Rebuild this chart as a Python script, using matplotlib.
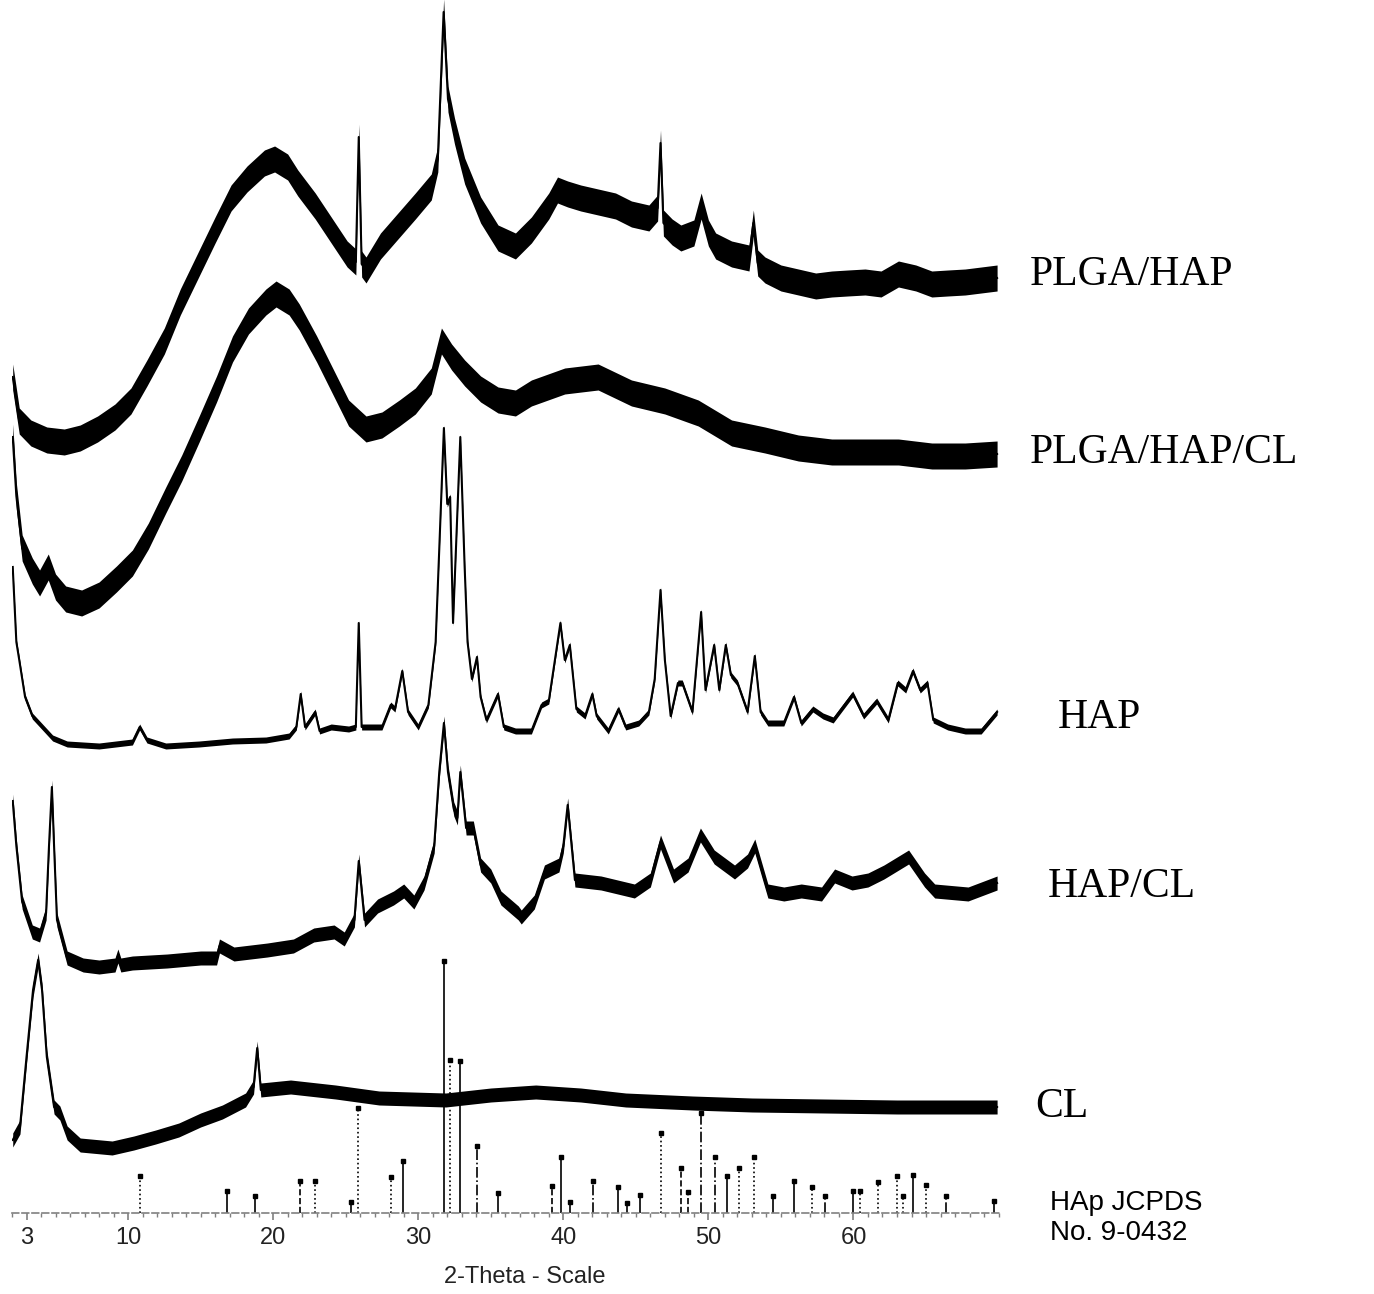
import numpy as np
import matplotlib
matplotlib.use("Agg")
import matplotlib.pyplot as plt
from matplotlib.ticker import MultipleLocator, FixedLocator

# stacked XRD scans (2-theta in degrees, height in px above the axis)
plga_hap_x = [2.05, 2.5, 3.3, 4.4, 5.6, 6.7, 7.9, 9.1, 10.2, 11.3, 12.5, 13.6, 14.8, 16.0, 17.1, 18.2,
              19.4, 20.1, 21.0, 21.7, 22.9, 24.0, 25.1, 25.7, 25.9, 26.1, 26.4, 27.4, 28.6, 29.8, 30.9,
              31.35, 31.75, 32.05, 32.5, 33.2, 34.3, 35.5, 36.7, 37.8, 39.0, 39.6, 40.3, 41.2, 42.4,
              43.6, 44.7, 45.9, 46.5, 46.7, 46.9, 47.5, 48.1, 49.0, 49.5, 50.0, 50.5, 51.6, 52.8, 53.1,
              53.4, 53.9, 55.0, 56.2, 57.4, 58.5, 59.6, 60.8, 61.9, 63.1, 64.3, 65.4, 66.5, 67.7, 68.8, 69.9]
plga_hap_y = [831, 787, 775, 768, 766, 770, 779, 791, 807, 835, 867, 906, 942, 978, 1010, 1029,
              1045, 1049, 1041, 1025, 1002, 978, 954, 946, 1071, 944, 938, 962, 982, 1002, 1021,
              1049, 1196, 1109, 1077, 1037, 998, 970, 962, 978, 1002, 1018, 1014, 1010, 1006,
              1002, 994, 990, 1000, 1065, 985, 976, 970, 975, 1002, 975, 962, 954, 950, 985,
              945, 938, 930, 926, 922, 924, 925, 926, 924, 934, 930, 924, 925, 926, 928, 930]

plga_hap_cl_x = [2.05, 2.3, 2.7, 3.4, 3.9, 4.5, 5.0, 5.7, 6.8, 8.0, 9.2, 10.3, 11.4, 12.6, 13.7, 14.9,
                 16.1, 17.2, 18.3, 19.5, 20.2, 21.1, 21.8, 23.0, 24.1, 25.2, 26.4, 27.5, 28.7, 29.8,
                 30.9, 31.6, 32.3, 33.2, 34.3, 35.5, 36.7, 37.8, 40.1, 42.4, 44.7, 47.0, 49.3, 51.6,
                 53.9, 56.2, 58.5, 60.8, 63.1, 65.4, 67.7, 69.9]
plga_hap_cl_y = [771, 712, 660, 637, 625, 641, 621, 609, 605, 613, 629, 645, 672, 708, 740, 779,
                 819, 859, 887, 906, 914, 906, 891, 859, 827, 795, 779, 783, 795, 807,
                 827, 867, 851, 835, 819, 808, 805, 815, 827, 831, 815, 807, 795, 775,
                 768, 760, 756, 756, 756, 752, 752, 754]

hap_x = [2.05, 2.3, 2.5, 2.9, 3.4, 4.1, 4.8, 5.8, 8.0, 10.3, 10.8, 11.3, 12.6, 14.9, 17.2, 19.5,
         21.1, 21.6, 21.9, 22.2, 22.9, 23.2, 24.0, 25.2, 25.7, 25.9, 26.1, 27.5, 28.1, 28.4, 28.9,
         29.3, 30.0, 30.7, 31.2, 31.45, 31.77, 32.0, 32.2, 32.4, 32.6, 32.9, 33.2, 33.4, 33.7,
         34.05, 34.3, 34.7, 35.5, 35.9, 36.7, 37.8, 38.5, 39.0, 39.8, 40.1, 40.45, 40.9, 41.5,
         42.0, 42.3, 43.1, 43.8, 44.3, 45.2, 45.9, 46.3, 46.7, 47.0, 47.4, 47.9, 48.2, 48.9,
         49.5, 49.8, 50.4, 50.75, 51.2, 51.55, 52.0, 52.7, 53.2, 53.6, 54.1, 55.2, 55.9, 56.4,
         57.2, 57.9, 58.6, 59.95, 60.7, 61.6, 62.4, 63.05, 63.6, 64.1, 64.6, 65.1, 65.5, 66.5,
         67.7, 68.8, 69.9]
hap_y = [641, 566, 548, 511, 492, 481, 470, 464, 462, 466, 481, 468, 462, 464, 467, 468,
         472, 481, 514, 481, 496, 477, 481, 479, 481, 585, 481, 481, 503, 499, 537,
         496, 481, 503, 566, 659, 780, 704, 711, 585, 659, 771, 641, 566, 529,
         551, 511, 488, 514, 481, 477, 477, 503, 507, 585, 548, 563, 499, 492,
         514, 492, 477, 499, 481, 485, 496, 529, 618, 548, 492, 525, 525, 496,
         596, 518, 563, 518, 563, 533, 525, 496, 552, 496, 485, 485, 511, 485,
         499, 492, 488, 514, 492, 507, 488, 525, 518, 537, 518, 525, 488, 481,
         477, 477, 496]

hap_cl_x = [2.05, 2.3, 2.7, 3.4, 3.9, 4.35, 4.55, 4.75, 4.9, 5.1, 5.8, 6.9, 8.0, 9.1, 9.3, 9.5,
            10.3, 12.7, 15.0, 16.1, 16.3, 17.3, 19.6, 21.4, 22.8, 24.2, 24.9, 25.6, 25.9, 26.3,
            27.2, 28.3, 29.0, 29.7, 30.4, 31.1, 31.45, 31.77, 32.05, 32.45, 32.7, 32.9, 33.3,
            33.8, 34.3, 35.0, 35.7, 36.9, 37.1, 38.0, 38.7, 39.7, 40.0, 40.3, 40.8, 42.6, 44.9,
            46.0, 46.7, 47.6, 48.6, 49.45, 50.4, 51.8, 52.7, 53.2, 54.1, 55.2, 56.4, 57.8, 58.7,
            59.9, 61.0, 62.1, 63.8, 64.9, 65.6, 67.9, 69.9]
hap_cl_y = [407, 362, 306, 276, 273, 295, 362, 421, 362, 288, 250, 243, 241, 243, 252, 243,
            245, 247, 250, 250, 262, 254, 258, 262, 273, 276, 269, 288, 347, 288,
            302, 310, 317, 306, 325, 362, 436, 485, 436, 399, 390, 436, 380,
            380, 343, 332, 310, 295, 291, 306, 336, 343, 362, 403, 328, 325, 317,
            328, 366, 332, 343, 373, 351, 336, 347, 362, 317, 314, 317, 314, 332,
            325, 328, 336, 351, 328, 317, 314, 325]

cl_x = [2.05, 2.55, 3.0, 3.45, 3.8, 4.07, 4.4, 4.9, 5.3, 5.8, 6.7, 8.9, 10.4, 11.9, 13.5, 15.0,
        16.5, 18.1, 18.65, 18.9, 19.15, 21.2, 24.3, 27.3, 31.9, 35.0, 38.1, 41.2, 44.3, 48.9,
        53.0, 58.0, 63.0, 69.9]
cl_y = [68, 81, 151, 218, 248, 218, 151, 101, 95, 75, 63, 60, 65, 71, 78, 88,
        96, 108, 121, 160, 118, 121, 116, 110, 108, 113, 116, 113, 108, 105,
        103, 102, 101, 101]

# HAp JCPDS No. 9-0432 reference lines
ref_pos = [10.82, 16.84, 18.78, 21.82, 22.90, 25.35, 25.88, 28.13, 28.97, 31.77,
           32.20, 32.90, 34.05, 35.48, 39.20, 39.82, 40.45, 42.03, 43.80, 44.37,
           45.31, 46.71, 48.10, 48.62, 49.47, 50.49, 51.28, 52.10, 53.14, 54.44,
           55.88, 57.13, 58.07, 59.94, 60.45, 61.66, 63.01, 63.44, 64.08, 65.03,
           66.40, 69.70]
ref_int = [37, 22, 17, 32, 32, 11, 105, 36, 52, 252,
           153, 152, 67, 20, 27, 56, 11, 32, 26, 10,
           18, 80, 45, 21, 100, 56, 37, 45, 56, 17,
           32, 26, 17, 22, 22, 31, 37, 17, 38, 28,
           17, 12]
ref_ls = [':', '-', '-', '--', ':', '-', ':', ':', '-', '-',
          ':', '-', '-.', '-', '--', '-', '-', '-.', '-', '-',
          '-', ':', '--', '--', '-.', '-.', '-', ':', ':', '-',
          '-', ':', '-.', '-', ':', ':', ':', ':', '-', ':',
          '-.', '-']

labels = ["PLGA/HAP", "PLGA/HAP/CL", "HAP", "HAP/CL", "CL"]
tick_vals = [3, 10, 20, 30, 40, 50, 60]

W, H = 1374, 1294
fig = plt.figure(figsize=(W / 100, H / 100), dpi=100)
ax = fig.add_axes([12 / W, (H - 1213) / H, 988 / W, 1213 / H])
ax.set_xlim(2.0, 70.1)
ax.set_ylim(-5, 1208)

# half-width of the noise band for each scan (px)
curves = [(plga_hap_x, plga_hap_y, 13), (plga_hap_cl_x, plga_hap_cl_y, 13),
          (hap_x, hap_y, 3), (hap_cl_x, hap_cl_y, 7), (cl_x, cl_y, 7)]
for xs, ys, hw in curves:
    xs = np.array(xs)
    ys = np.array(ys)
    ax.fill_between(xs, ys - hw, ys + hw, color='k', lw=0)
    ax.plot(xs, ys, color='k', lw=1.5)

base = -5
for p, i, ls in zip(ref_pos, ref_int, ref_ls):
    ax.plot([p, p], [base, base + i], color='k', lw=1.2, ls=ls)
    ax.plot(p, base + i, marker='s', ms=3.5, color='k')

for s in ['left', 'right', 'top']:
    ax.spines[s].set_visible(False)
ax.spines['bottom'].set_color('#808080')
ax.spines['bottom'].set_linestyle((0, (4, 2)))
ax.spines['bottom'].set_linewidth(1.2)
ax.set_yticks([])
ax.xaxis.set_major_locator(FixedLocator(tick_vals))
ax.xaxis.set_minor_locator(MultipleLocator(1))
ax.set_xticklabels([str(t) for t in tick_vals], fontsize=17, family='Liberation Sans', color='#222222')
ax.tick_params(axis='x', which='major', direction='out', length=5, width=1.2, color='#808080', pad=5)
ax.tick_params(axis='x', which='minor', direction='out', length=3, width=1.0, color='#808080')

fig.text(525 / W, 1 - 1277 / H, "2-Theta - Scale", ha='center', va='center',
         fontsize=17, family='Liberation Sans', color='#222222')

label_pos = [(1030, 275), (1030, 453), (1058, 718), (1048, 887), (1035, 1107)]
for t, (px, py) in zip(labels, label_pos):
    fig.text(px / W, 1 - py / H, t, ha='left', va='center', fontsize=30, family='Liberation Serif')

fig.text(1050 / W, 1 - 1203 / H, "HAp JCPDS", ha='left', va='center', fontsize=20, family='Liberation Sans')
fig.text(1050 / W, 1 - 1233 / H, "No. 9-0432", ha='left', va='center', fontsize=20, family='Liberation Sans')

fig.savefig("out.png", dpi=100)
